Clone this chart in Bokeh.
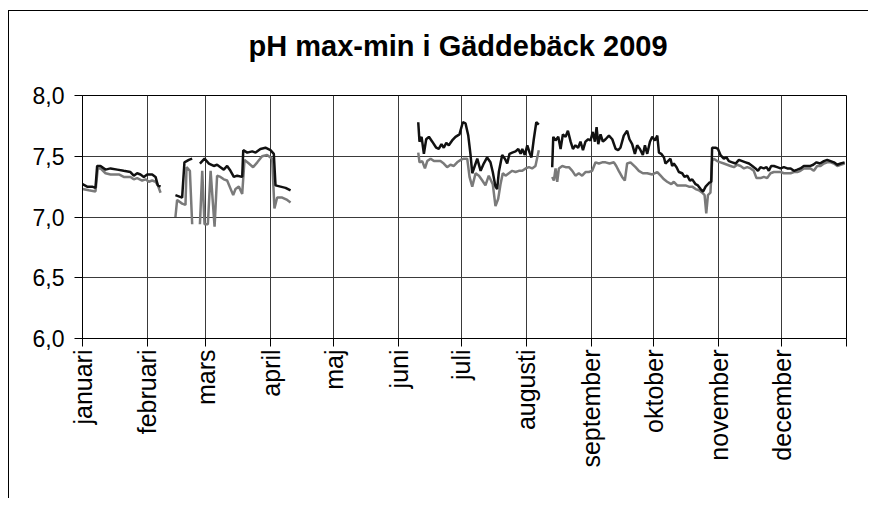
import math
from bokeh.plotting import figure
from bokeh.models import Range1d, FixedTicker, CustomJSTickFormatter, ColumnDataSource, LinearAxis
from bokeh.embed import file_html
from bokeh.resources import INLINE

nan = float("nan")

# Month labels (day of year where each month starts)
month_names = ["januari", "februari", "mars", "april", "maj", "juni", "juli",
               "augusti", "september", "oktober", "november", "december"]
month_start = [0, 31, 59, 90, 120, 151, 181, 212, 243, 273, 304, 334]
year_end = 365
y_ticks = [6.0, 6.5, 7.0, 7.5, 8.0]
title_text = "pH max-min i Gäddebäck 2009"

# pH max (daily), day of year; NaN = gap in the record
day_max = [0, 2.2, 4.6, 6.2, 7.0, 8.6, 11.0, 13.4, 16.6, 19.7, 22.9, 24.5, 26.1, 27.7, 29.3, 30.9, 33.3, 34.9, 36.0, 37.3,
           nan,
           44.4, 47.6, 48.7, 50.8, 52.4,
           nan,
           56.1, 58.3, 60.4, 62.7, 64.3, 65.9, 67.5, 69.1, 70.7, 72.3, 73.9, 76.3, 76.8, 78.7, 81.1, 82.7, 85.0, 87.4,
           89.8, 91.4, 92.2, 94.6, 97.0, 99.4,
           nan,
           160.4, 161.0, 162.0, 163.1, 164.2, 165.5, 167.1, 169.0, 170.2, 171.5, 172.6, 173.8, 175.0, 176.6, 178.2,
           180.1, 181.7, 183.0, 184.3, 185.4, 186.2, 187.4, 188.6, 190.2, 191.7, 193.3, 194.9, 196.0, 197.3, 198.1,
           198.9, 200.5, 201.8, 202.9, 204.0, 205.3, 206.9, 208.2, 209.3, 210.1, 211.3, 212.5, 213.6, 214.5, 215.6,
           216.8, 218.0,
           nan,
           224.4, 224.9, 226.0, 227.3, 228.4, 229.5, 230.8, 231.9, 233.2, 234.3, 235.5, 236.8, 237.9, 239.1, 240.3,
           241.6, 242.7, 243.8, 244.8, 245.6, 246.4, 247.5, 248.6, 249.9, 251.5, 253.1, 254.7, 255.9, 257.0, 258.6,
           260.2, 261.3, 262.6, 263.9, 265.0, 266.3, 267.7, 268.7, 269.8, 271.1, 272.2, 273.5,
           274.6, 275.4, 276.5, 277.8, 278.5, 279.7, 280.9, 281.7, 282.5, 283.8, 284.9, 286.5, 287.6, 288.9, 290.2,
           291.3, 292.9, 294.0, 295.3, 296.5, 297.7, 299.3, 300.4, 300.8, 302.4, 303.6, 304.8, 306.4, 307.7, 308.8,
           310.4, 312.0, 313.6, 315.2, 316.8, 318.4, 320.0, 321.5, 322.7, 323.9, 325.5, 326.8, 327.9, 329.0, 330.3,
           331.9, 333.5, 335.1, 336.7, 338.3, 339.9, 341.5, 343.0, 344.6, 346.2, 347.8, 349.1, 350.7, 352.3, 354.2,
           355.8, 357.4, 359.0, 360.6, 362.2, 364.1]
ph_max = [7.27, 7.25, 7.25, 7.24, 7.42, 7.42, 7.39, 7.40, 7.39, 7.38, 7.37, 7.34, 7.36, 7.35, 7.33, 7.35, 7.35, 7.33, 7.26, 7.25,
          nan,
          7.18, 7.16, 7.45, 7.47, 7.48,
          nan,
          7.44, 7.48, 7.44, 7.42, 7.43, 7.41, 7.39, 7.42, 7.38, 7.33, 7.34, 7.33, 7.55, 7.53, 7.54, 7.53, 7.56, 7.57,
          7.55, 7.52, 7.26, 7.25, 7.24, 7.22,
          nan,
          7.78, 7.62, 7.66, 7.52, 7.64, 7.66, 7.62, 7.57, 7.56, 7.60, 7.57, 7.61, 7.59, 7.63, 7.66,
          7.68, 7.78, 7.77, 7.67, 7.51, 7.36, 7.42, 7.48, 7.38, 7.44, 7.49, 7.45, 7.37, 7.25, 7.23,
          7.37, 7.51, 7.48, 7.44, 7.52, 7.53, 7.54, 7.56, 7.52, 7.56, 7.51, 7.59, 7.53, 7.49, 7.64,
          7.78, 7.76,
          nan,
          7.41, 7.66, 7.63, 7.66, 7.56, 7.68, 7.66, 7.71, 7.62, 7.56, 7.59, 7.57, 7.62, 7.55, 7.62,
          7.64, 7.63, 7.70, 7.62, 7.74, 7.60, 7.68, 7.62, 7.64, 7.67, 7.64, 7.56, 7.55, 7.57, 7.67,
          7.71, 7.64, 7.60, 7.52, 7.59, 7.56, 7.51, 7.59, 7.52, 7.62, 7.66, 7.63,
          7.67, 7.53, 7.52, 7.49, 7.44, 7.46, 7.48, 7.42, 7.44, 7.41, 7.37, 7.36, 7.33, 7.34, 7.30,
          7.31, 7.27, 7.26, 7.23, 7.21, 7.25, 7.28, 7.29, 7.57, 7.57, 7.56, 7.51, 7.48, 7.49, 7.46,
          7.45, 7.44, 7.47, 7.46, 7.45, 7.44, 7.42, 7.40, 7.38, 7.41, 7.40, 7.41, 7.38, 7.42, 7.42,
          7.41, 7.40, 7.41, 7.40, 7.40, 7.38, 7.39, 7.40, 7.42, 7.42, 7.42, 7.43, 7.45, 7.44, 7.46,
          7.47, 7.46, 7.45, 7.43, 7.44, 7.45]

# pH min (daily)
day_min = [0, 3.0, 6.2, 7.3, 8.6, 11.0, 13.4, 17.4, 19.7, 22.9, 24.5, 26.1, 28.5, 30.1, 31.7, 33.3, 34.9, 36.0, 37.3,
           nan,
           44.4, 45.2, 47.6, 49.2, 49.7, 51.3, 52.4,
           nan,
           56.1, 57.2, 58.3, 59.9, 61.2, 63.1, 64.3, 65.9, 67.5, 69.1, 72.0, 73.1, 74.7, 76.3, 77.4, 79.5, 81.5,
           83.5, 85.8, 88.2, 90.6, 91.7, 93.0, 95.4, 97.8, 99.4,
           nan,
           160.4, 161.0, 162.3, 163.6, 164.7, 166.3, 167.9, 169.5, 171.0, 172.6, 174.2, 175.8, 177.4, 179.0, 180.6,
           182.2, 183.8, 184.9, 186.2, 187.8, 189.4, 191.0, 192.5, 194.1, 196.0, 197.3, 198.6, 199.7, 200.8, 202.1,
           203.7, 205.3, 206.9, 208.5, 210.1, 211.7, 213.3, 214.8, 216.4, 218.0,
           nan,
           224.4, 225.2, 226.0, 226.8, 227.6, 229.2, 230.8, 232.4, 234.0, 235.5, 237.1, 238.7, 240.3, 241.9, 243.5,
           245.1, 246.7, 248.3, 249.9, 251.8, 253.9, 255.0, 256.2, 257.8, 259.1, 260.2, 261.8, 264.2, 265.8, 267.7,
           269.8, 272.2,
           274.6, 276.2, 277.8, 279.3, 281.3, 282.5, 284.1, 285.7, 288.1, 289.7, 291.3, 292.9, 294.5, 296.1, 297.2,
           298.0, 298.8, 300.0, 300.8, 301.6, 303.2, 304.8, 306.4, 308.0, 309.6, 311.2, 312.8, 314.4, 316.0, 317.6,
           319.2, 320.7, 322.0, 323.9, 325.5, 327.1, 328.7, 330.3, 331.9, 333.5, 335.1, 336.7, 338.3, 339.9, 341.5,
           343.0, 344.6, 346.2, 347.8, 349.4, 351.0, 352.6, 354.2, 355.8, 357.4, 359.0, 360.6, 362.2, 364.1]
ph_min = [7.23, 7.22, 7.21, 7.40, 7.40, 7.36, 7.35, 7.35, 7.33, 7.33, 7.31, 7.32, 7.30, 7.31, 7.29, 7.30, 7.29, 7.26, 7.20,
          nan,
          7.00, 7.14, 7.11, 7.10, 7.41, 7.38, 6.94,
          nan,
          6.94, 7.38, 6.94, 6.94, 7.38, 6.92, 7.34, 7.33, 7.31, 7.30, 7.18, 7.23, 7.25, 7.19, 7.47, 7.44, 7.41,
          7.45, 7.50, 7.51, 7.48, 7.07, 7.16, 7.16, 7.14, 7.12,
          nan,
          7.53, 7.45, 7.46, 7.40, 7.46, 7.48, 7.46, 7.46, 7.46, 7.44, 7.41, 7.43, 7.42, 7.45, 7.47,
          7.48, 7.48, 7.33, 7.25, 7.36, 7.34, 7.30, 7.26, 7.34, 7.27, 7.09, 7.15, 7.27, 7.36, 7.34,
          7.36, 7.38, 7.37, 7.38, 7.38, 7.40, 7.41, 7.40, 7.42, 7.55,
          nan,
          7.33, 7.30, 7.40, 7.29, 7.40, 7.42, 7.41, 7.41, 7.38, 7.34, 7.36, 7.34, 7.37, 7.37, 7.38,
          7.45, 7.44, 7.45, 7.45, 7.44, 7.45, 7.42, 7.38, 7.33, 7.30, 7.44, 7.45, 7.41, 7.38, 7.36,
          7.36, 7.35,
          7.37, 7.34, 7.31, 7.29, 7.27, 7.29, 7.26, 7.26, 7.26, 7.25, 7.25, 7.23, 7.22, 7.20, 7.18,
          7.03, 7.18, 7.20, 7.46, 7.48, 7.46, 7.45, 7.44, 7.43, 7.42, 7.41, 7.43, 7.42, 7.40, 7.41,
          7.40, 7.38, 7.32, 7.32, 7.33, 7.32, 7.36, 7.37, 7.37, 7.37, 7.36, 7.36, 7.36, 7.37, 7.37,
          7.38, 7.40, 7.40, 7.40, 7.38, 7.42, 7.42, 7.44, 7.45, 7.45, 7.44, 7.42, 7.43, 7.44]

src_max = ColumnDataSource(data=dict(day=day_max, ph=ph_max))
src_min = ColumnDataSource(data=dict(day=day_min, ph=ph_min))

FONT = "Liberation Sans"

p = figure(width=860, height=488,
           x_range=Range1d(0, year_end), y_range=Range1d(y_ticks[0], y_ticks[-1]),
           output_backend="svg", toolbar_location=None,
           min_border_left=73, min_border_right=23, min_border_top=84, min_border_bottom=161)
p.styles = {"border-top": "1px solid #000000", "border-left": "1px solid #000000",
            "margin-left": "8px", "margin-top": "10px"}

# invisible spacer axis above the frame: keeps the title at its distance from the plot
spacer = LinearAxis(ticker=FixedTicker(ticks=[month_start[0]]), axis_line_color=None,
                    major_tick_line_color=None, minor_tick_line_color=None,
                    major_label_overrides={month_start[0]: ""},
                    major_label_text_font_size="0px",
                    major_tick_in=0, major_tick_out=29, minor_tick_out=0, major_label_standoff=0)
p.add_layout(spacer, "above")

p.title.text = title_text
p.title.text_font = FONT
p.title.text_font_size = "29px"
p.title.text_font_style = "bold"
p.title.text_color = "#000000"
p.title.align = "left"
p.title.offset = 166
p.title.standoff = 10

p.line("day", "ph", source=src_min, line_color="#7a7a7a", line_width=2.5)
p.line("day", "ph", source=src_max, line_color="#111111", line_width=2.5)

x_ticks = month_start + [year_end]
overrides = {d: n for d, n in zip(month_start, month_names)}
overrides[year_end] = ""
xax = p.below[0]
xax.ticker = FixedTicker(ticks=x_ticks)
xax.major_label_overrides = overrides
xax.major_label_orientation = math.pi / 2
yax = p.left[0]
yax.ticker = FixedTicker(ticks=y_ticks)
yax.formatter = CustomJSTickFormatter(code="return tick.toFixed(1).replace('.', ',');")

for ax in (xax, yax):
    ax.axis_line_color = "#000000"
    ax.axis_line_width = 1
    ax.major_tick_line_color = "#000000"
    ax.major_tick_in = 0
    ax.major_tick_out = 8
    ax.minor_tick_line_color = None
    ax.major_label_text_font = FONT
    ax.major_label_text_color = "#000000"
xax.major_label_text_font_size = "25px"
yax.major_label_text_font_size = "23px"
xax.major_label_standoff = 3
yax.major_label_standoff = 10

p.xgrid.ticker = FixedTicker(ticks=x_ticks)
p.ygrid.ticker = FixedTicker(ticks=y_ticks)
p.xgrid.grid_line_color = "#3a3a3a"
p.ygrid.grid_line_color = "#3a3a3a"
p.outline_line_color = "#000000"
p.outline_line_width = 1
p.background_fill_color = "#ffffff"
p.border_fill_color = "#ffffff"

open("out.html", "w").write(file_html(p, INLINE))
